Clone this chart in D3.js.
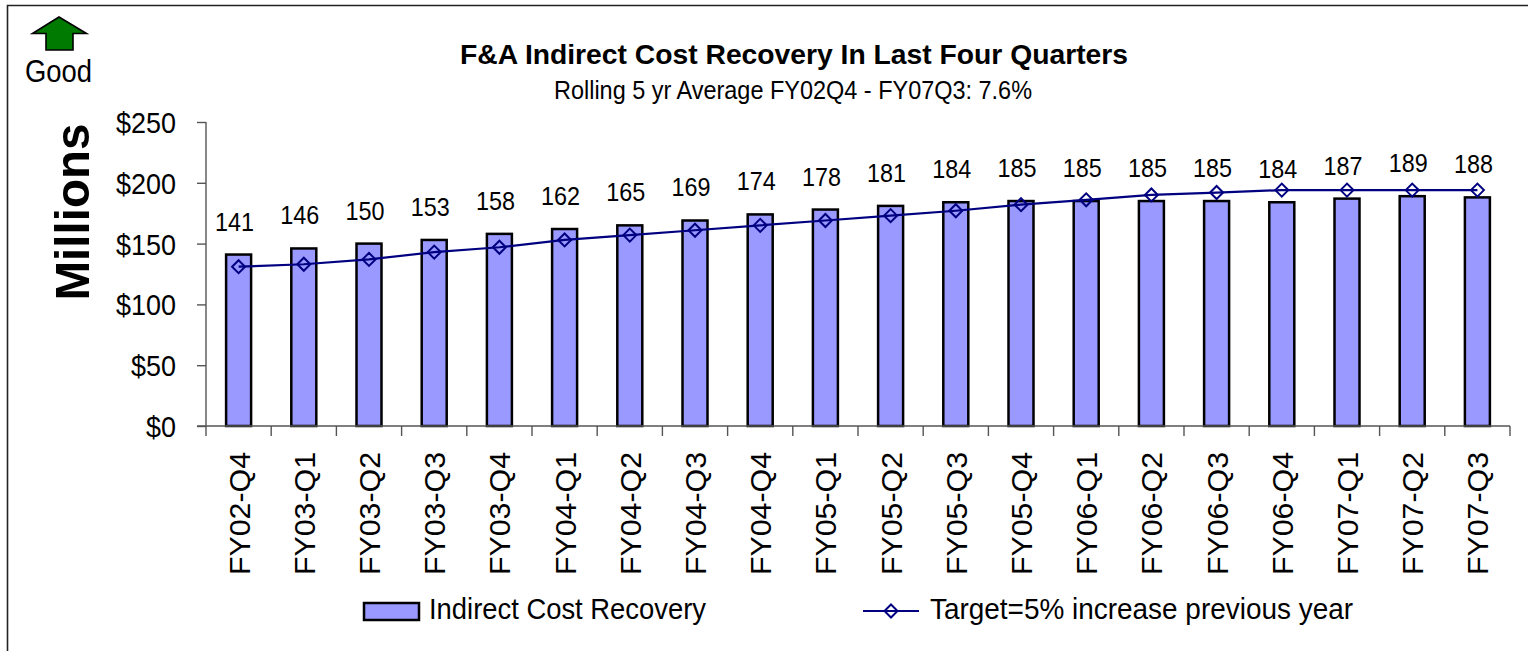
<!DOCTYPE html>
<html><head><meta charset="utf-8">
<script src="https://cdnjs.cloudflare.com/ajax/libs/d3/7.8.5/d3.min.js"></script>
<style>html,body{margin:0;padding:0;background:#fff;overflow:hidden}svg{display:block}text{font-family:"Liberation Sans",Arial,sans-serif;fill:#000}</style>
</head><body><svg id="c" width="1528" height="651"></svg>
<script>
const categories=["FY02-Q4","FY03-Q1","FY03-Q2","FY03-Q3","FY03-Q4","FY04-Q1","FY04-Q2","FY04-Q3","FY04-Q4","FY05-Q1","FY05-Q2","FY05-Q3","FY05-Q4","FY06-Q1","FY06-Q2","FY06-Q3","FY06-Q4","FY07-Q1","FY07-Q2","FY07-Q3"];
const recovery=[141,146,150,153,158,162,165,169,174,178,181,184,185,185,185,185,184,187,189,188];
const target=[131,133,137,143,147,153,157,161,165,169,173,177,182,186,190,192,194,194,194,194];
const yTicks=[0,50,100,150,200,250];
const titleText="F&A Indirect Cost Recovery In Last Four Quarters";
const subtitleText="Rolling 5 yr Average FY02Q4 - FY07Q3: 7.6%";
const legendLabels=["Indirect Cost Recovery","Target=5% increase previous year"];

const svg=d3.select("#c");
const plot={l:206,r:1510,t:122,b:426};
const x=d3.scaleBand().domain(categories).range([plot.l,plot.r]);
const y=d3.scaleLinear().domain([0,250]).range([plot.b,plot.t]);
const cx=d=>x(d)+x.bandwidth()/2;
const navy="#000080";

// frame: left and top edges only
svg.append("path").attr("d","M7.5,651V5.5H1528").attr("fill","none").attr("stroke","#222").attr("stroke-width",1.6);

// good arrow
svg.append("path").attr("d","M59,17L86.5,33.5H73V50H46V33.5H32.5Z").attr("fill","#007a00").attr("stroke","#000").attr("stroke-width",1.6);
svg.append("text").attr("x",58.5).attr("y",82).attr("text-anchor","middle").attr("font-size",31).attr("textLength",67).attr("lengthAdjust","spacingAndGlyphs").text("Good");

// titles
svg.append("text").attr("x",794).attr("y",64).attr("text-anchor","middle").attr("font-size",28).attr("font-weight","bold").attr("textLength",668).attr("lengthAdjust","spacingAndGlyphs").text(titleText);
svg.append("text").attr("x",793).attr("y",99).attr("text-anchor","middle").attr("font-size",25).attr("textLength",478).attr("lengthAdjust","spacingAndGlyphs").text(subtitleText);

// y title
svg.append("text").attr("transform","translate(89,212) rotate(-90)").attr("text-anchor","middle").attr("font-size",49).attr("font-weight","bold").attr("textLength",177).attr("lengthAdjust","spacingAndGlyphs").text("Millions");

// bars
svg.append("g").selectAll("rect").data(categories).join("rect")
 .attr("x",d=>cx(d)-12.5).attr("width",25)
 .attr("y",(d,i)=>y(recovery[i])).attr("height",(d,i)=>plot.b-y(recovery[i]))
 .attr("fill","#9999ff").attr("stroke","#000").attr("stroke-width",2.5);

// axes
const yAxis=d3.axisLeft(y).tickValues(yTicks).tickSize(9).tickFormat(d=>"$"+d);
const gy=svg.append("g").attr("transform",`translate(${plot.l},0)`).call(yAxis);
gy.selectAll("path,line").attr("stroke","#555").attr("stroke-width",1.4);
gy.select(".domain").attr("d",`M0,${plot.t}V${plot.b}`);
gy.selectAll("text").attr("x",-30).attr("dy","0.35em").attr("font-size",30).attr("font-family",'"Liberation Sans",Arial,sans-serif').attr("fill","#000")
 .attr("textLength",d=>(String(d).length+1)*15).attr("lengthAdjust","spacingAndGlyphs");

const gx=svg.append("g").attr("transform",`translate(0,${plot.b})`);
gx.append("line").attr("x1",plot.l-9).attr("x2",plot.r).attr("stroke","#555").attr("stroke-width",1.4);
gx.selectAll(".t").data(d3.range(categories.length+1)).join("line").attr("class","t")
 .attr("x1",i=>plot.l+i*x.bandwidth()).attr("x2",i=>plot.l+i*x.bandwidth()).attr("y1",0).attr("y2",10)
 .attr("stroke","#555").attr("stroke-width",1.4);
gx.selectAll("text").data(categories).join("text")
 .attr("transform",d=>`translate(${cx(d)+11},26) rotate(-90)`)
 .attr("text-anchor","end").attr("font-size",30).attr("textLength",123).attr("lengthAdjust","spacingAndGlyphs").text(d=>d);

// target line
const line=d3.line().x((d,i)=>cx(categories[i])).y(d=>y(d));
svg.append("path").datum(target).attr("d",line).attr("fill","none").attr("stroke",navy).attr("stroke-width",2.2);
const dpath=(px,py)=>`M${px-6.5},${py}L${px},${py-6.5}L${px+6.5},${py}L${px},${py+6.5}Z`;
svg.append("g").selectAll("path").data(target).join("path")
 .attr("d",(d,i)=>dpath(cx(categories[i]),y(d)))
 .attr("fill","none").attr("stroke",navy).attr("stroke-width",2);

// value labels
svg.append("g").selectAll("text").data(recovery).join("text")
 .attr("x",(d,i)=>cx(categories[i])-4).attr("y",d=>y(d)-24)
 .attr("text-anchor","middle").attr("font-size",26).attr("textLength",39).attr("lengthAdjust","spacingAndGlyphs").text(d=>d);

// legend
svg.append("rect").attr("x",364).attr("y",603).attr("width",55).attr("height",17).attr("fill","#9999ff").attr("stroke","#000").attr("stroke-width",2.5);
svg.append("text").attr("x",429).attr("y",619).attr("font-size",30).attr("textLength",277).attr("lengthAdjust","spacingAndGlyphs").text(legendLabels[0]);
svg.append("line").attr("x1",863).attr("x2",919).attr("y1",611).attr("y2",611).attr("stroke",navy).attr("stroke-width",2.2);
svg.append("path").attr("d",dpath(891,611)).attr("fill","none").attr("stroke",navy).attr("stroke-width",2);
svg.append("text").attr("x",930).attr("y",619).attr("font-size",30).attr("textLength",423).attr("lengthAdjust","spacingAndGlyphs").text(legendLabels[1]);
</script></body></html>
